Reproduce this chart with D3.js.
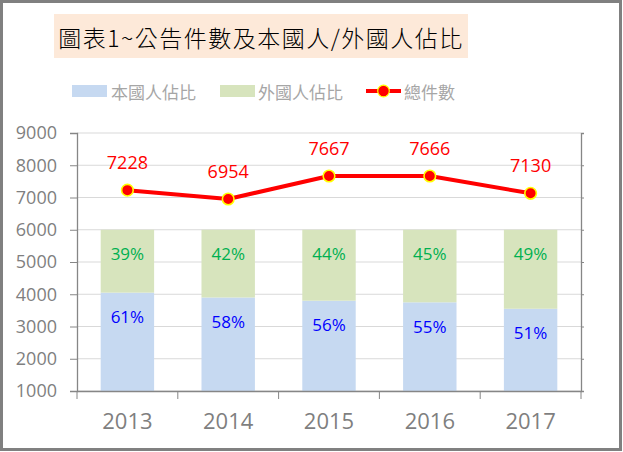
<!DOCTYPE html>
<html>
<head>
<meta charset="utf-8">
<script src="https://cdn.jsdelivr.net/npm/d3@7"></script>
<style>
  html, body { margin: 0; padding: 0; background: #fff; }
  svg { display: block; }
</style>
</head>
<body>
<svg id="chart" width="623" height="452"></svg>
<script>
// chart data
const years = ['2013', '2014', '2015', '2016', '2017'];
const domesticPct = [61, 58, 56, 55, 51];   // 本國人佔比
const foreignPct = [39, 42, 44, 45, 49];    // 外國人佔比
const totalCount = [7228, 6954, 7667, 7666, 7130]; // 總件數
const yTicks = [1000, 2000, 3000, 4000, 5000, 6000, 7000, 8000, 9000];
// the share bars are drawn from 1000 up to 6000 on the same axis
const shareBase = 1000;
const shareSpan = 5000;

const titleText = '圖表1~公告件數及本國人/外國人佔比';
const legendNames = ['本國人佔比', '外國人佔比', '總件數'];

const colors = {
  domestic: '#c6d9f1',
  foreign: '#d7e4bd',
  line: '#ff0000',
  marker: '#ff0000',
  markerStroke: '#ffff00',
  domesticLabel: '#0000ff',
  foreignLabel: '#00b050',
  axis: '#868686',
  grid: '#d9d9d9',
  text: '#7f7f7f'
};

const svg = d3.select('#chart');
const latin = "'Open Sans', 'Noto Sans', sans-serif";
const cjk = "'Noto Sans CJK TC', 'Noto Sans', sans-serif";

// outer frame
svg.append('rect')
  .attr('x', 1.5).attr('y', 1.5)
  .attr('width', 619).attr('height', 448)
  .attr('fill', '#fff')
  .attr('stroke', '#808080')
  .attr('stroke-width', 3);

// title box
svg.append('rect')
  .attr('x', 54).attr('y', 14)
  .attr('width', 414).attr('height', 44)
  .attr('fill', '#fde9d9');

svg.append('text')
  .attr('x', 261).attr('y', 37)
  .attr('text-anchor', 'middle')
  .attr('dominant-baseline', 'central')
  .attr('font-family', "'Noto Sans CJK TC', serif")
  .attr('font-weight', 300)
  .attr('font-size', 23)
  .attr('letter-spacing', 1.5)
  .attr('fill', '#000')
  .text(titleText);

// plot area
const plot = { left: 77, right: 581, top: 133, bottom: 391 };

const x = d3.scaleBand()
  .domain(years)
  .range([plot.left, plot.right])
  .paddingInner(0.47)
  .paddingOuter(0.235);

const xOuter = d3.scaleBand()
  .domain(years)
  .range([plot.left, plot.right]);

const y = d3.scaleLinear()
  .domain([1000, 9000])
  .range([plot.bottom, plot.top]);

// gridlines
svg.append('g')
  .selectAll('line')
  .data(yTicks)
  .join('line')
  .attr('x1', plot.left).attr('x2', plot.right)
  .attr('y1', d => y(d)).attr('y2', d => y(d))
  .attr('stroke', colors.grid)
  .attr('stroke-width', 1);

// stacked share bars
const shareRows = years.map((yr, i) => ({
  year: yr,
  domestic: domesticPct[i],
  foreign: foreignPct[i]
}));

const stack = d3.stack().keys(['domestic', 'foreign']);
const layers = stack(shareRows);
const toAxis = v => shareBase + v / 100 * shareSpan;

const barGroup = svg.append('g');
layers.forEach(layer => {
  barGroup.append('g')
    .selectAll('rect')
    .data(layer)
    .join('rect')
    .attr('x', d => x(d.data.year))
    .attr('width', x.bandwidth())
    .attr('y', d => y(toAxis(d[1])))
    .attr('height', d => y(toAxis(d[0])) - y(toAxis(d[1])))
    .attr('fill', layer.key === 'domestic' ? colors.domestic : colors.foreign);

  // labels sit just inside the top of each segment
  barGroup.append('g')
    .selectAll('text')
    .data(layer)
    .join('text')
    .attr('x', d => x(d.data.year) + x.bandwidth() / 2)
    .attr('y', d => y(toAxis(d[1])) + 24)
    .attr('text-anchor', 'middle')
    .attr('dominant-baseline', 'central')
    .attr('font-family', latin)
    .attr('font-size', 17)
    .attr('fill', layer.key === 'domestic' ? colors.domesticLabel : colors.foreignLabel)
    .text(d => d.data[layer.key] + '%');
});

// axes
const yAxisLeft = svg.append('g')
  .attr('transform', `translate(${plot.left},0)`)
  .call(d3.axisLeft(y).tickValues(yTicks).tickSize(7).tickPadding(13).tickFormat(d3.format('d')));

const yAxisRight = svg.append('g')
  .attr('transform', `translate(${plot.right},0)`)
  .call(d3.axisRight(y).tickValues(yTicks).tickSize(3).tickFormat(''));

const xAxis = svg.append('g')
  .attr('transform', `translate(0,${plot.bottom})`)
  .call(d3.axisBottom(xOuter).tickSize(0).tickPadding(22));

// category boundary ticks
xAxis.append('g')
  .selectAll('line')
  .data(years.map(yr => xOuter(yr)).concat([plot.right]))
  .join('line')
  .attr('x1', d => d).attr('x2', d => d)
  .attr('y1', 0).attr('y2', 8)
  .attr('stroke', colors.axis);

[yAxisLeft, yAxisRight, xAxis].forEach(ax => {
  ax.select('.domain').attr('stroke', colors.axis).attr('stroke-width', 1.3);
  ax.selectAll('.tick line').attr('stroke', colors.axis);
  ax.selectAll('text')
    .attr('fill', colors.text)
    .attr('font-family', latin);
});
yAxisLeft.selectAll('text').attr('font-size', 18);
xAxis.selectAll('.tick text').attr('font-size', 22);

// total line
const cx = yr => x(yr) + x.bandwidth() / 2;
const line = d3.line()
  .x((d, i) => cx(years[i]))
  .y(d => y(d));

svg.append('path')
  .datum(totalCount)
  .attr('d', line)
  .attr('fill', 'none')
  .attr('stroke', colors.line)
  .attr('stroke-width', 4)
  .attr('stroke-linejoin', 'round');

svg.append('g')
  .selectAll('circle')
  .data(totalCount)
  .join('circle')
  .attr('cx', (d, i) => cx(years[i]))
  .attr('cy', d => y(d))
  .attr('r', 5.8)
  .attr('fill', colors.marker)
  .attr('stroke', colors.markerStroke)
  .attr('stroke-width', 1.6);

svg.append('g')
  .selectAll('text')
  .data(totalCount)
  .join('text')
  .attr('x', (d, i) => cx(years[i]))
  .attr('y', d => y(d) - 28)
  .attr('text-anchor', 'middle')
  .attr('dominant-baseline', 'central')
  .attr('font-family', latin)
  .attr('font-size', 18)
  .attr('fill', colors.line)
  .text(d => d);

// legend
const legend = svg.append('g').attr('font-family', cjk).attr('font-size', 17);
const legendY = 91;

legend.append('rect')
  .attr('x', 72).attr('y', legendY - 6)
  .attr('width', 35).attr('height', 12)
  .attr('fill', colors.domestic);
legend.append('text')
  .attr('x', 111).attr('y', legendY)
  .attr('dominant-baseline', 'central')
  .attr('fill', '#a6a6a6')
  .text(legendNames[0]);

legend.append('rect')
  .attr('x', 220).attr('y', legendY - 6)
  .attr('width', 35).attr('height', 12)
  .attr('fill', colors.foreign);
legend.append('text')
  .attr('x', 258).attr('y', legendY)
  .attr('dominant-baseline', 'central')
  .attr('fill', '#a6a6a6')
  .text(legendNames[1]);

legend.append('line')
  .attr('x1', 366).attr('x2', 401)
  .attr('y1', legendY).attr('y2', legendY)
  .attr('stroke', colors.line)
  .attr('stroke-width', 4);
legend.append('circle')
  .attr('cx', 383.5).attr('cy', legendY)
  .attr('r', 5.8)
  .attr('fill', colors.marker)
  .attr('stroke', colors.markerStroke)
  .attr('stroke-width', 1.2);
legend.append('text')
  .attr('x', 404).attr('y', legendY)
  .attr('dominant-baseline', 'central')
  .attr('fill', '#a6a6a6')
  .text(legendNames[2]);
</script>
</body>
</html>
